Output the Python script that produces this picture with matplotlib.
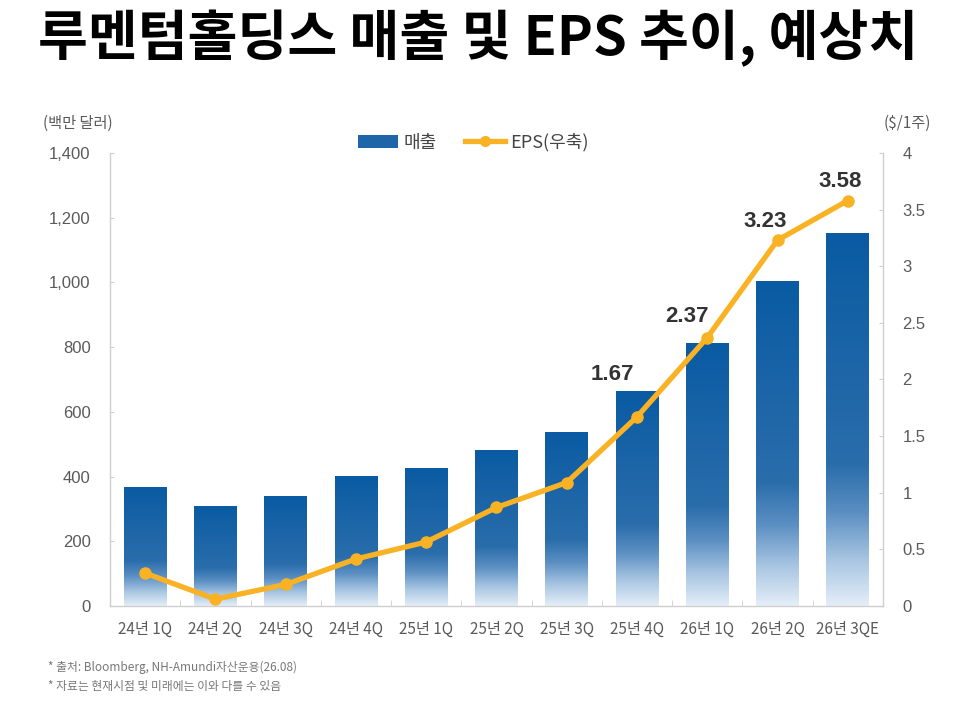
import matplotlib
matplotlib.use("Agg")
import matplotlib.pyplot as plt
import numpy as np
from matplotlib.colors import LinearSegmentedColormap
from matplotlib.lines import Line2D
from matplotlib.patches import Patch

plt.rcParams['font.family'] = ['Noto Sans CJK KR', 'DejaVu Sans']

# 데이터
quarters = ["24년 1Q", "24년 2Q", "24년 3Q", "24년 4Q", "25년 1Q", "25년 2Q",
            "25년 3Q", "25년 4Q", "26년 1Q", "26년 2Q", "26년 3QE"]
sales = [365, 306, 337, 399, 426, 482, 535, 664, 810, 1004, 1150]
eps = [0.29, 0.06, 0.19, 0.415, 0.565, 0.87, 1.09, 1.67, 2.37, 3.23, 3.58]
eps_labels = ["", "", "", "", "", "", "", "1.67", "2.37", "3.23", "3.58"]
left_ticks = [0, 200, 400, 600, 800, 1000, 1200, 1400]
right_ticks = [0, 0.5, 1, 1.5, 2, 2.5, 3, 3.5, 4]

# 라벨 위치 (픽셀 오프셋)
label_offsets = {7: (-25, 42), 8: (-20, 21), 9: (-12, 19), 10: (-8, 19)}

BAR_TOP = "#0a5ba3"
LINE_C = "#f9b224"
GRID_C = "#cfcfcf"
TICK_C = "#5a5a5a"

bar_cmap = LinearSegmentedColormap.from_list(
    "bar", [(0.0, "#e4eef8"), (0.12, "#a9c6e2"), (0.25, "#5b8fc2"),
            (0.38, "#2a6dab"), (1.0, BAR_TOP)])

fig = plt.figure(figsize=(9.66, 7.02), dpi=100)
ax = fig.add_axes([0.1139, 0.1368, 0.8001, 0.6453])
ax2 = ax.twinx()

x = np.arange(len(quarters))
bars = ax.bar(x, sales, width=0.61, color="none", edgecolor="none", zorder=2)
grad = np.linspace(0, 1, 256).reshape(-1, 1)
for b in bars:
    bx, bw, bh = b.get_x(), b.get_width(), b.get_height()
    ax.imshow(grad, cmap=bar_cmap, origin="lower", aspect="auto",
              extent=[bx, bx + bw, 0, bh], zorder=2, interpolation="bicubic")

ax.set_xlim(-0.5, len(quarters) - 0.5)
ax.set_ylim(0, 1400)
ax.set_yticks(left_ticks)
ax.set_yticklabels([f"{v:,}" for v in left_ticks])
ax.set_xticks(x)
ax.set_xticklabels(quarters)
ax.set_xticks(x[:-1] + 0.5, minor=True)

ax2.plot(x, eps, color=LINE_C, lw=3.8, marker="o", markersize=8,
         solid_capstyle="round", zorder=5)
ax2.set_ylim(0, 4)
ax2.set_yticks(right_ticks)
ax2.set_yticklabels([f"{v:g}" for v in right_ticks])
for i, (xi, yi, lab) in enumerate(zip(x, eps, eps_labels)):
    if lab:
        ax2.annotate(lab, (xi, yi), xytext=label_offsets.get(i, (-15, 20)),
                     textcoords="offset pixels", ha="center", va="center",
                     fontsize=16, fontweight="bold", color="#333333",
                     family=["Liberation Sans", "DejaVu Sans"])

for a in (ax, ax2):
    a.spines["top"].set_visible(False)
    for s in ("left", "right", "bottom"):
        a.spines[s].set_color(GRID_C)
        a.spines[s].set_linewidth(1.0)
ax.spines["right"].set_visible(False)
ax2.spines["left"].set_visible(False)
ax2.spines["bottom"].set_visible(False)

ax.tick_params(axis="y", direction="in", length=3, color=GRID_C, labelcolor=TICK_C,
               labelsize=12, pad=14)
ax2.tick_params(axis="y", direction="in", length=3, color=GRID_C, labelcolor=TICK_C,
                labelsize=12, pad=14)
ax.tick_params(axis="x", which="major", length=0, labelcolor=TICK_C, labelsize=11, pad=11)
ax.tick_params(axis="x", which="minor", direction="in", length=4, color=GRID_C)
for t in ax.get_yticklabels() + ax2.get_yticklabels():
    t.set_family(["Liberation Sans", "DejaVu Sans"])

fig.text(0.495, 0.945, "루멘텀홀딩스 매출 및 EPS 추이, 예상치", ha="center", va="center",
         fontsize=39, fontweight="black", color="black")
fig.text(0.081, 0.825, "(백만 달러)", ha="center", va="center", fontsize=11, color=TICK_C)
fig.text(0.939, 0.825, "($/1주)", ha="center", va="center", fontsize=11, color=TICK_C)
fig.text(0.05, 0.05, "* 출처: Bloomberg, NH-Amundi자산운용(26.08)", ha="left", va="center",
         fontsize=8.5, color="#777777")
fig.text(0.05, 0.022, "* 자료는 현재시점 및 미래에는 이와 다를 수 있음", ha="left", va="center",
         fontsize=8.5, color="#777777")

handles = [Patch(facecolor="#1e66a8", edgecolor="none"),
           Line2D([0], [0], color=LINE_C, lw=3.8, marker="o", markersize=7)]
fig.legend(handles, ["매출", "EPS(우축)"], loc="center", bbox_to_anchor=(0.49, 0.797),
           ncol=2, frameon=False, fontsize=13, handlelength=2.2, handletextpad=0.3,
           columnspacing=1.6, labelcolor="#444444")

fig.savefig("out.png", dpi=100)
